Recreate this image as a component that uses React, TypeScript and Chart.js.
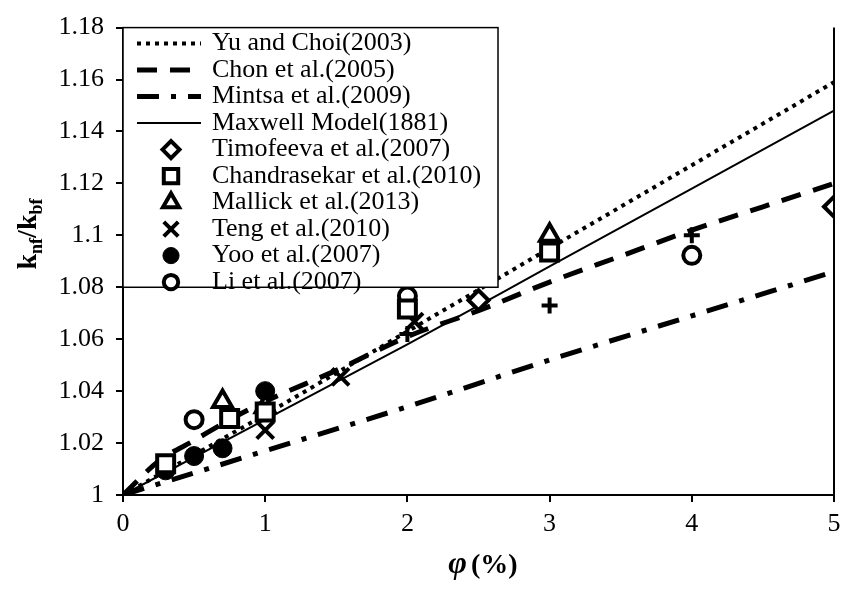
import React, { useEffect, useRef } from 'react';
import { Chart, registerables } from 'chart.js';
import { drawPoint } from 'chart.js/helpers';

Chart.register(...registerables);

const SERIF = '"Liberation Serif", "Times New Roman", serif';

// Axis ticks
const xTicks = [0, 1, 2, 3, 4, 5];
const xTickLabels = ['0', '1', '2', '3', '4', '5'];
const yTicks = [1, 1.02, 1.04, 1.06, 1.08, 1.1, 1.12, 1.14, 1.16, 1.18];
const yTickLabels = ['1', '1.02', '1.04', '1.06', '1.08', '1.1', '1.12', '1.14', '1.16', '1.18'];

// Model curves (volume fraction in %, conductivity ratio)
const yuChoiX = [0, 1, 2, 3, 4, 5];
const yuChoiY = [1, 1.031, 1.063, 1.095, 1.127, 1.159];

const chonX = [0, 0.25, 0.5, 0.75, 1, 1.5, 2, 2.5, 3, 3.5, 4, 4.5, 5];
const chonY = [1, 1.013, 1.021, 1.029, 1.036, 1.048, 1.061, 1.071, 1.082, 1.092, 1.102, 1.111, 1.12];

const mintsaX = [0, 1, 2, 3, 4, 5];
const mintsaY = [1, 1.017, 1.034, 1.052, 1.069, 1.086];

const maxwellX = [0, 1, 2, 3, 4, 5];
const maxwellY = [1, 1.029, 1.058, 1.088, 1.118, 1.148];

// Experimental measurements
const timofeevaX = [2.5, 5];
const timofeevaY = [1.075, 1.111];

const chandrasekarX = [0.3, 0.75, 1, 2, 3];
const chandrasekarY = [1.012, 1.0295, 1.032, 1.0716, 1.0936];

const mallickX = [0.7, 1, 3];
const mallickY = [1.036, 1.034, 1.1];

const tengX = [1, 1.53, 2.05];
const tengY = [1.025, 1.0455, 1.0668];

const yooX = [0.3, 0.5, 0.7, 1];
const yooY = [1.0095, 1.015, 1.018, 1.04];

const liX = [0.5, 2, 4];
const liY = [1.029, 1.0766, 1.0923];

const extraX = [2, 3, 4];
const extraY = [1.062, 1.073, 1.1];

const pts = (xs: number[], ys: number[]) => xs.map((x, i) => ({ x, y: ys[i] }));

const lineSet = (label: string, xs: number[], ys: number[], width: number, dash: number[]) => ({
  label,
  data: pts(xs, ys),
  showLine: true,
  borderColor: '#000',
  backgroundColor: '#000',
  borderWidth: width,
  borderDash: dash,
  borderCapStyle: 'butt' as const,
  pointRadius: 0,
  pointHoverRadius: 0,
  cubicInterpolationMode: 'monotone' as const,
  order: 2,
});

const markerSet = (
  label: string,
  xs: number[],
  ys: number[],
  style: string,
  radius: number,
  fill: string,
  width: number,
) => ({
  label,
  data: pts(xs, ys),
  showLine: false,
  pointStyle: style,
  pointRadius: radius,
  pointHoverRadius: radius,
  pointBackgroundColor: fill,
  pointBorderColor: '#000',
  pointBorderWidth: width,
  backgroundColor: fill,
  borderColor: '#000',
  borderWidth: width,
  order: 1,
});

// Boxed legend in the upper-left corner of the plot area
const legendBox = {
  id: 'legendBox',
  afterDatasetsDraw(chart: any) {
    const { ctx, chartArea } = chart;
    const x0 = chartArea.left;
    const y0 = chartArea.top;
    const x1 = 498;
    const y1 = chart.scales.y.getPixelForValue(1.08);
    ctx.save();
    ctx.fillStyle = '#fff';
    ctx.fillRect(x0, y0, x1 - x0, y1 - y0);
    ctx.strokeStyle = '#000';
    ctx.lineWidth = 1.5;
    ctx.strokeRect(x0, y0, x1 - x0, y1 - y0);

    let row = 0;
    chart.data.datasets.forEach((ds: any) => {
      if (!ds.label) return;
      const cy = y0 + 16 + row * 26.5;
      if (ds.showLine) {
        ctx.save();
        ctx.strokeStyle = ds.borderColor;
        ctx.lineWidth = ds.borderWidth;
        ctx.lineCap = 'butt';
        ctx.setLineDash(ds.borderDash || []);
        ctx.beginPath();
        ctx.moveTo(137, cy);
        ctx.lineTo(201, cy);
        ctx.stroke();
        ctx.restore();
      } else {
        ctx.save();
        ctx.fillStyle = ds.pointBackgroundColor;
        ctx.strokeStyle = ds.pointBorderColor;
        ctx.lineWidth = ds.pointBorderWidth;
        ctx.setLineDash([]);
        drawPoint(ctx, {
          pointStyle: ds.pointStyle,
          radius: ds.pointRadius * 0.85,
          rotation: 0,
          borderWidth: ds.pointBorderWidth,
        } as any, 171, cy);
        ctx.restore();
      }
      ctx.fillStyle = '#000';
      ctx.font = `26px ${SERIF}`;
      ctx.textAlign = 'left';
      ctx.textBaseline = 'middle';
      ctx.fillText(ds.label, 212, cy);
      row += 1;
    });
    ctx.restore();
  },
};

// Right frame line and the two axis titles
const frameAndTitles = {
  id: 'frameAndTitles',
  afterDraw(chart: any) {
    const { ctx, chartArea } = chart;
    ctx.save();
    ctx.strokeStyle = '#000';
    ctx.lineWidth = 2;
    ctx.beginPath();
    ctx.moveTo(chartArea.right, chartArea.top);
    ctx.lineTo(chartArea.right, chartArea.bottom);
    ctx.stroke();

    // y title: k_nf / k_bf
    const big = `bold 28px ${SERIF}`;
    const small = `bold 18px ${SERIF}`;
    const parts: [string, string, number][] = [
      ['k', big, 0],
      ['nf', small, 6],
      ['/k', big, 0],
      ['bf', small, 6],
    ];
    let total = 0;
    parts.forEach(([t, f]) => {
      ctx.font = f;
      total += ctx.measureText(t).width;
    });
    ctx.translate(27, 234);
    ctx.rotate(-Math.PI / 2);
    ctx.fillStyle = '#000';
    ctx.textBaseline = 'alphabetic';
    ctx.textAlign = 'left';
    let px = -total / 2;
    parts.forEach(([t, f, dy]) => {
      ctx.font = f;
      ctx.fillText(t, px, 9 + dy);
      px += ctx.measureText(t).width;
    });
    ctx.restore();

    // x title: φ (%)
    ctx.save();
    ctx.fillStyle = '#000';
    ctx.textBaseline = 'alphabetic';
    ctx.textAlign = 'left';
    const phiFont = `italic bold 32px ${SERIF}`;
    const pctFont = `bold 28px ${SERIF}`;
    ctx.font = phiFont;
    const w1 = ctx.measureText('φ').width;
    ctx.font = pctFont;
    const w2 = ctx.measureText('(%)').width;
    const gap = 4;
    let sx = 483 - (w1 + gap + w2) / 2;
    ctx.font = phiFont;
    ctx.fillText('φ', sx, 573);
    sx += w1 + gap;
    ctx.font = pctFont;
    ctx.fillText('(%)', sx, 573);
    ctx.restore();
  },
};

export default function App() {
  const canvasRef = useRef<HTMLCanvasElement>(null);

  useEffect(() => {
    const canvas = canvasRef.current;
    if (!canvas) return;

    const chart = new Chart(canvas, {
      type: 'scatter',
      data: {
        datasets: [
          lineSet('Yu and Choi(2003)', yuChoiX, yuChoiY, 4, [4, 5]),
          lineSet('Chon et al.(2005)', chonX, chonY, 5, [20, 13]),
          lineSet('Mintsa et al.(2009)', mintsaX, mintsaY, 5, [22, 12, 5, 12]),
          lineSet('Maxwell Model(1881)', maxwellX, maxwellY, 2, []),
          markerSet('Timofeeva et al.(2007)', timofeevaX, timofeevaY, 'rectRot', 10, '#fff', 4),
          markerSet('Chandrasekar et al.(2010)', chandrasekarX, chandrasekarY, 'rect', 12, '#fff', 4),
          markerSet('Mallick et al.(2013)', mallickX, mallickY, 'triangle', 11, '#fff', 4),
          markerSet('Teng et al.(2010)', tengX, tengY, 'crossRot', 12, '#000', 4),
          markerSet('Yoo et al.(2007)', yooX, yooY, 'circle', 9.5, '#000', 1),
          markerSet('Li et al.(2007)', liX, liY, 'circle', 8.5, '#fff', 4),
          markerSet('', extraX, extraY, 'cross', 8, '#000', 4),
        ] as any,
      },
      options: {
        responsive: false,
        animation: false,
        devicePixelRatio: 1,
        layout: { padding: { top: 17, right: 6, left: 0, bottom: 0 } },
        plugins: {
          legend: { display: false },
          tooltip: { enabled: false },
        },
        scales: {
          x: {
            type: 'linear',
            min: 0,
            max: 5,
            afterBuildTicks: (s: any) => {
              s.ticks = xTicks.map((v) => ({ value: v }));
            },
            afterFit: (s: any) => {
              s.height = 95;
            },
            ticks: {
              callback: (_v: any, i: number) => xTickLabels[i],
              color: '#000',
              font: { family: SERIF, size: 26 },
              padding: 7,
              maxRotation: 0,
            },
            grid: {
              drawOnChartArea: false,
              drawTicks: true,
              tickLength: 7,
              color: '#000',
              lineWidth: 2,
            },
            border: { display: true, color: '#000', width: 2 },
          },
          y: {
            type: 'linear',
            min: 1,
            max: 1.18,
            afterBuildTicks: (s: any) => {
              s.ticks = yTicks.map((v) => ({ value: v }));
            },
            afterFit: (s: any) => {
              s.width = 123;
            },
            ticks: {
              callback: (_v: any, i: number) => yTickLabels[i],
              color: '#000',
              font: { family: SERIF, size: 26 },
              padding: 12,
            },
            grid: {
              drawOnChartArea: false,
              drawTicks: true,
              tickLength: 7,
              color: '#000',
              lineWidth: 2,
            },
            border: { display: true, color: '#000', width: 2 },
          },
        },
      } as any,
      plugins: [legendBox, frameAndTitles],
    });

    return () => chart.destroy();
  }, []);

  return (
    <div style={{ position: 'absolute', left: 0, top: 0, width: 850, height: 590, background: '#fff' }}>
      <canvas ref={canvasRef} width={850} height={590} style={{ display: 'block' }} />
    </div>
  );
}
